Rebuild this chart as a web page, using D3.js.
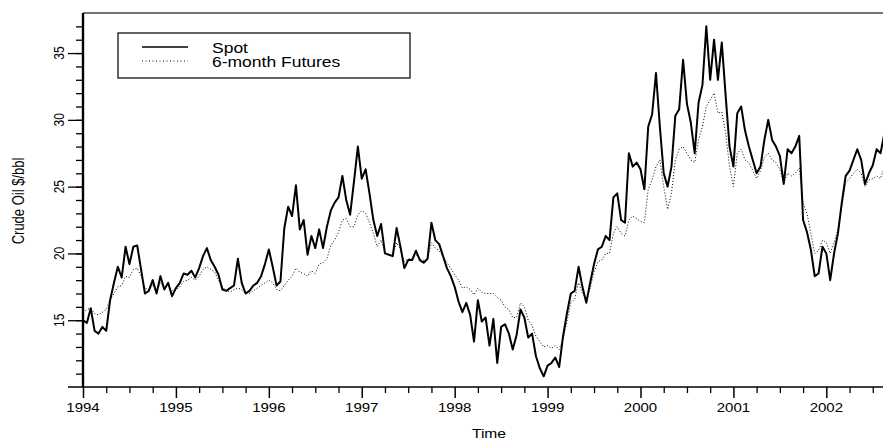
<!DOCTYPE html>
<html>
<head>
<meta charset="utf-8">
<script src="https://cdn.jsdelivr.net/npm/d3@7"></script>
<style>
  body { margin: 0; background: #fff; }
  text { font-family: "Liberation Sans", Arial, sans-serif; fill: #000; }
</style>
</head>
<body>
<div id="chart"></div>
<script>
// semi-monthly readings, starting Jan 1994
const spot = [
  15.0, 14.8, 15.9, 14.2, 14.0, 14.5, 14.2, 16.5, 17.8, 19.0, 18.2, 20.5,
  19.2, 20.5, 20.6, 18.8, 17.0, 17.2, 18.0, 17.0, 18.3, 17.3, 17.8, 16.8,
  17.4, 17.8, 18.5, 18.4, 18.7, 18.2, 18.9, 19.8, 20.4, 19.5, 19.0, 18.4,
  17.3, 17.2, 17.4, 17.6, 19.6, 17.8, 17.0, 17.2, 17.6, 17.8, 18.3, 19.2,
  20.3, 19.0, 17.6, 17.9, 21.9, 23.5, 22.8, 25.1, 21.8, 22.5, 19.9, 21.3,
  20.4, 21.8, 20.4, 22.0, 23.2, 23.8, 24.2, 25.8, 24.0, 22.9, 25.4, 28.0,
  25.6, 26.3, 24.5, 22.5, 21.3, 22.2, 20.0, 19.9, 19.8, 21.9, 20.5, 18.9,
  19.5, 19.5, 20.2, 19.5, 19.3, 19.6, 22.3, 21.0, 20.7, 19.8, 18.9, 18.3,
  17.5, 16.4, 15.6, 16.3, 15.4, 13.4, 16.5, 14.9, 15.2, 13.1, 15.1, 11.8,
  14.5, 14.7, 14.0, 12.8, 13.9, 15.8, 15.2, 13.7, 14.0, 12.3, 11.4, 10.8,
  11.6, 11.8, 12.2, 11.5, 13.8, 15.5, 17.0, 17.2, 19.0, 17.5, 16.3, 17.8,
  19.2, 20.3, 20.5, 21.3, 21.0, 24.2, 24.5, 22.5, 22.3, 27.5, 26.5, 26.8,
  26.3, 24.8, 29.5, 30.4, 33.5, 29.5, 26.0, 25.0, 26.5, 30.3, 30.8, 34.5,
  31.2, 29.8, 27.5, 31.3, 32.6, 37.0, 33.0, 36.0, 33.0, 35.8, 31.8, 28.0,
  26.5, 30.5, 31.0, 29.2, 28.0, 27.0, 26.0, 26.5, 28.5, 30.0, 28.5, 28.0,
  27.3, 25.2, 27.8, 27.5, 28.0, 28.8, 22.5, 21.6, 20.3, 18.3, 18.5, 20.5,
  20.0, 18.0, 20.0, 21.5, 23.8, 25.8, 26.2, 27.0, 27.8, 27.0, 25.2, 26.0,
  26.6, 27.8, 27.5, 29.0
];

const futures = [
  15.6, 15.8, 15.9, 15.5, 15.4, 15.6, 15.8, 16.5, 17.0, 17.5, 17.6, 18.3,
  18.2, 18.8, 18.9, 18.3, 17.4, 17.3, 17.6, 17.2, 17.8, 17.4, 17.6, 17.2,
  17.3, 17.5, 17.9, 18.0, 18.2, 18.0, 18.3, 18.8, 19.0, 18.8, 18.6, 18.0,
  17.5, 17.2, 17.1, 17.3, 17.4, 17.3, 17.0, 17.0, 17.2, 17.4, 17.6, 17.8,
  18.0, 17.8, 17.3, 17.2, 17.6, 18.0, 18.3, 18.9, 18.6, 18.5, 18.3, 18.7,
  18.5, 19.2, 19.3, 19.6, 20.6, 21.0, 21.6, 22.5, 22.6, 22.0, 22.0, 22.9,
  23.2, 23.0, 22.3, 21.5, 20.5, 21.0, 20.0, 19.9, 19.8, 20.8, 20.3, 19.4,
  19.6, 19.6, 19.9, 19.6, 19.5, 19.6, 20.8, 20.4, 20.2, 19.8, 19.3, 18.9,
  18.4, 18.0, 17.4, 17.5, 17.3, 16.9, 17.4, 17.1, 17.0, 17.0, 17.0, 16.7,
  16.5, 16.0, 15.8, 15.2, 15.2, 16.3, 16.0, 15.0, 14.6, 13.8, 13.4, 13.0,
  13.1, 12.9, 13.1, 12.8, 13.6, 14.9, 16.3, 16.6, 17.8, 17.0, 16.6, 17.4,
  18.6, 19.4, 19.5, 20.0, 20.0, 21.5, 22.0, 21.5, 21.3, 22.5, 22.8, 22.6,
  22.4, 22.3, 24.8, 25.5, 26.5, 27.0, 25.0, 23.3, 24.5, 27.0, 27.8, 28.0,
  27.5, 27.0, 26.8, 28.5, 29.5, 31.0, 31.5, 32.0, 30.5, 30.6, 29.0, 26.5,
  25.0, 27.5, 27.8, 27.0, 26.8, 26.2, 25.6, 26.2, 27.2, 27.5, 27.0, 26.8,
  26.3, 25.3, 26.0, 25.8, 26.0, 26.4, 23.8, 23.0, 21.5, 20.0, 20.2, 21.0,
  20.8, 20.0, 20.8, 21.8, 23.5, 25.3, 25.6, 26.0, 26.3, 26.0, 25.0, 25.5,
  25.6, 25.8, 25.6, 26.5
];

const START_YEAR = 1994;
const PER_YEAR = 24;
const years = d3.range(1994, 2003);
const yMajor = [15, 20, 25, 30, 35];
const seriesNames = ["Spot", "6-month Futures"];

const WIDTH = 883, HEIGHT = 442;
const MARGIN = { TOP: 13, BOTTOM: 55, LEFT: 83, RIGHT: 0 };
const SX = 1.25; // the original text is stretched sideways

const dates = spot.map((d, i) => START_YEAR + i / PER_YEAR);

const svg = d3.select("#chart").append("svg")
  .attr("width", WIDTH)
  .attr("height", HEIGHT);

const x = d3.scaleLinear()
  .domain([1994, 2002.61])
  .range([MARGIN.LEFT, WIDTH - MARGIN.RIGHT]);

const y = d3.scaleLinear()
  .domain([10, 38])
  .range([HEIGHT - MARGIN.BOTTOM, MARGIN.TOP]);

svg.append("clipPath").attr("id", "plot")
  .append("rect")
  .attr("x", MARGIN.LEFT).attr("y", MARGIN.TOP)
  .attr("width", WIDTH - MARGIN.LEFT - MARGIN.RIGHT)
  .attr("height", HEIGHT - MARGIN.TOP - MARGIN.BOTTOM);

// lines
const line = d3.line()
  .x((d, i) => x(dates[i]))
  .y(d => y(d));

svg.append("path")
  .datum(futures)
  .attr("clip-path", "url(#plot)")
  .attr("fill", "none")
  .attr("stroke", "#000")
  .attr("stroke-width", 1)
  .attr("stroke-dasharray", "1,2")
  .attr("d", line);

svg.append("path")
  .datum(spot)
  .attr("clip-path", "url(#plot)")
  .attr("fill", "none")
  .attr("stroke", "#000")
  .attr("stroke-width", 2)
  .attr("stroke-linejoin", "round")
  .attr("d", line);

// x axis: year ticks + quarter ticks
const bottom = HEIGHT - MARGIN.BOTTOM;
const quarters = d3.range(1994, 2002.61, 0.25).filter(q => q % 1 !== 0);

svg.append("g")
  .attr("transform", `translate(0,${bottom})`)
  .call(d3.axisBottom(x).tickValues(quarters).tickSize(6).tickFormat(""))
  .call(g => g.select(".domain").remove())
  .call(g => g.selectAll("line").attr("stroke-width", 1.3));

svg.append("g")
  .attr("transform", `translate(0,${bottom})`)
  .call(d3.axisBottom(x).tickValues(years).tickSize(11).tickFormat(""))
  .call(g => g.select(".domain").remove())
  .call(g => g.selectAll("line").attr("stroke-width", 1.5));

svg.append("g").selectAll("text")
  .data(years)
  .join("text")
  .attr("transform", d => `translate(${x(d)},${bottom + 25}) scale(${SX},1)`)
  .attr("text-anchor", "middle")
  .attr("font-size", 12)
  .text(d => d);

// y axis: unit ticks + major ticks
svg.append("g")
  .attr("transform", `translate(${MARGIN.LEFT},0)`)
  .call(d3.axisLeft(y).tickValues(d3.range(11, 38)).tickSize(7).tickFormat(""))
  .call(g => g.select(".domain").remove())
  .call(g => g.selectAll("line").attr("stroke-width", 1.3));

svg.append("g")
  .attr("transform", `translate(${MARGIN.LEFT},0)`)
  .call(d3.axisLeft(y).tickValues(yMajor).tickSize(15).tickFormat(""))
  .call(g => g.select(".domain").remove())
  .call(g => g.selectAll("line").attr("stroke-width", 1.3));

svg.append("g").selectAll("text")
  .data(yMajor)
  .join("text")
  .attr("transform", d => `translate(${MARGIN.LEFT - 19},${y(d)}) scale(${SX},1) rotate(-90)`)
  .attr("text-anchor", "middle")
  .attr("font-size", 12)
  .text(d => d);

// frame
svg.append("line")
  .attr("x1", MARGIN.LEFT).attr("x2", WIDTH)
  .attr("y1", MARGIN.TOP).attr("y2", MARGIN.TOP)
  .attr("stroke", "#444").attr("stroke-width", 1.3);

svg.append("line")
  .attr("x1", MARGIN.LEFT - 15).attr("x2", WIDTH)
  .attr("y1", bottom).attr("y2", bottom)
  .attr("stroke", "#000").attr("stroke-width", 1.7);

svg.append("line")
  .attr("x1", MARGIN.LEFT).attr("x2", MARGIN.LEFT)
  .attr("y1", MARGIN.TOP).attr("y2", bottom)
  .attr("stroke", "#000").attr("stroke-width", 2.4);

// axis titles
svg.append("text")
  .attr("transform", `translate(489,438) scale(${SX},1)`)
  .attr("text-anchor", "middle")
  .attr("font-size", 12.5)
  .text("Time");

svg.append("text")
  .attr("transform", `translate(24,201) scale(${SX},1) rotate(-90)`)
  .attr("text-anchor", "middle")
  .attr("font-size", 13)
  .text("Crude Oil $/bbl");

// legend
const legend = svg.append("g");
legend.append("rect")
  .attr("x", 118).attr("y", 33)
  .attr("width", 292).attr("height", 45)
  .attr("fill", "#fff")
  .attr("stroke", "#222").attr("stroke-width", 1.4);

const legendRows = legend.selectAll("g.row")
  .data(seriesNames)
  .join("g")
  .attr("class", "row")
  .attr("transform", (d, i) => `translate(0,${47 + i * 14})`);

legendRows.append("line")
  .attr("x1", 142).attr("x2", 188)
  .attr("stroke", "#000")
  .attr("stroke-width", (d, i) => i === 0 ? 1.4 : 1)
  .attr("stroke-dasharray", (d, i) => i === 0 ? null : "1,2.5");

legendRows.append("text")
  .attr("transform", `translate(212,6) scale(${SX},1)`)
  .attr("font-size", 14)
  .text(d => d);
</script>
</body>
</html>
